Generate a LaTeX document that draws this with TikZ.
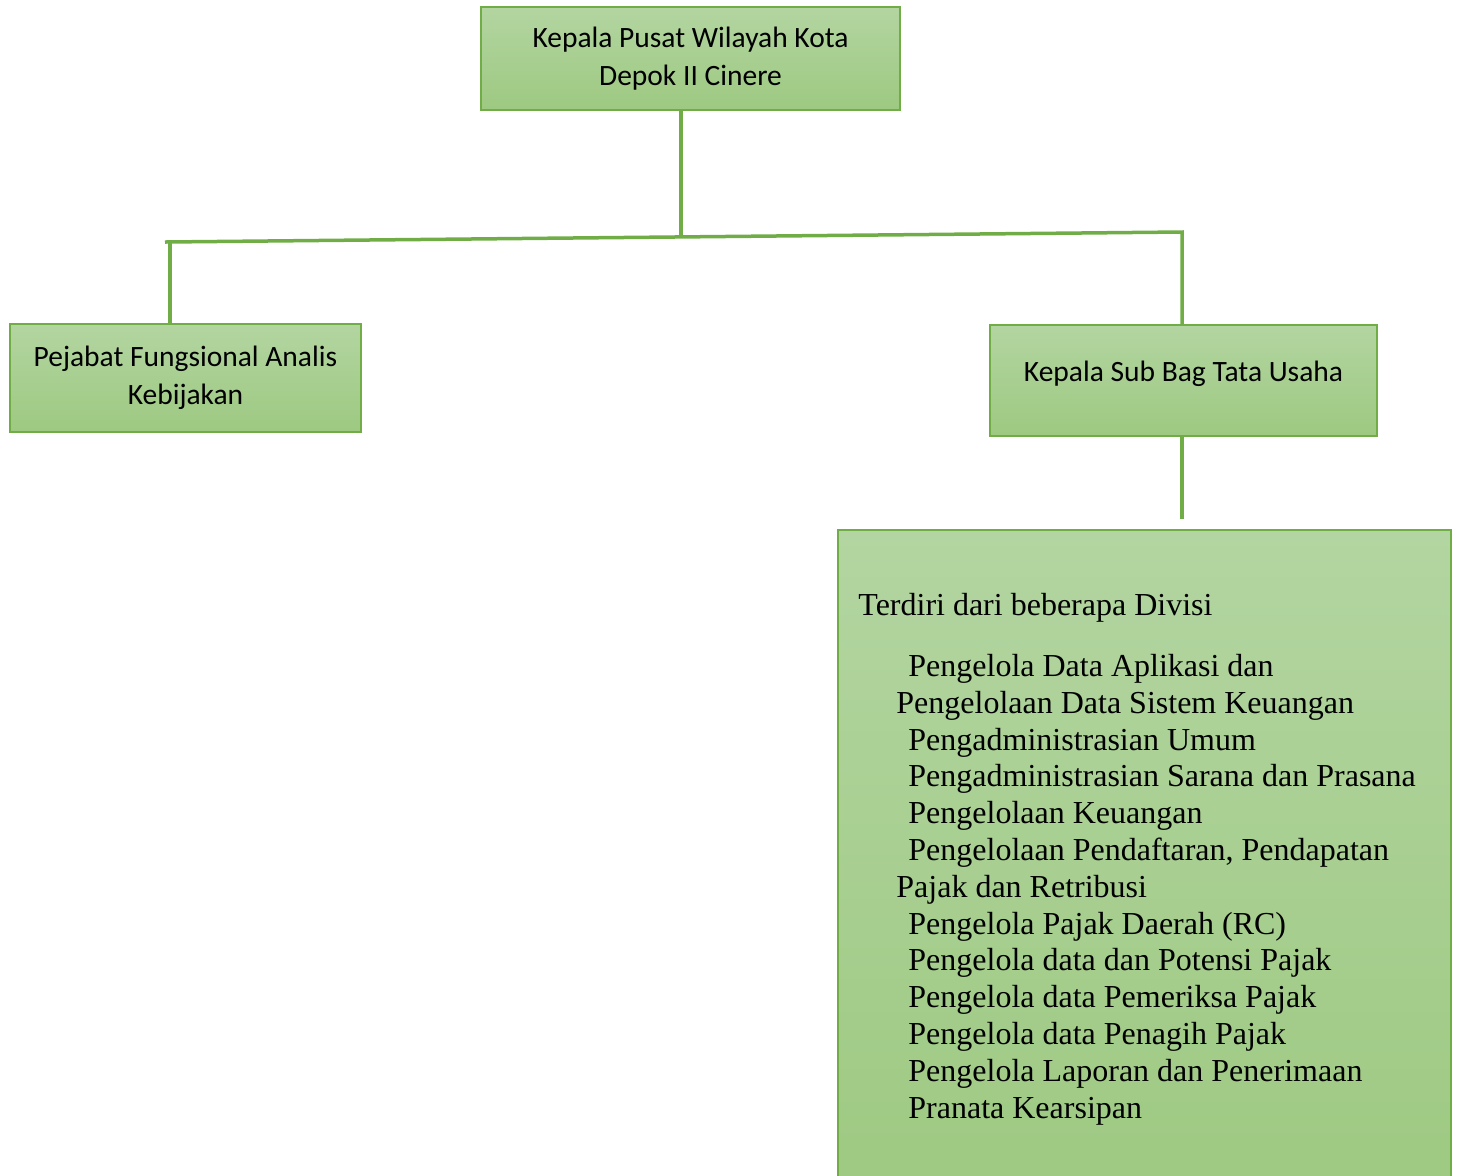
\documentclass[tikz,border=0pt]{standalone}
\usepackage{fontspec}
\setmainfont{Liberation Serif}
\newfontfamily\boxfont{Carlito}

\definecolor{orgline}{HTML}{70AD47}
\definecolor{orgtop}{HTML}{B3D5A1}
\definecolor{orgbot}{HTML}{9DC981}

\tikzset{
  unit/.style={draw=orgline, line width=1pt, top color=orgtop, bottom color=orgbot,
    align=center, inner sep=0pt, font=\boxfont\fontsize{14.75}{19}\selectfont},
  link/.style={orgline, line width=1.75pt},
  item/.style={anchor=base west, inner sep=0pt, font=\fontsize{16}{18.5}\selectfont}
}

\begin{document}
\begin{tikzpicture}[x=0.5pt,y=-0.5pt]
  \useasboundingbox (0,0) rectangle (1457,1175);

  % boxes
  \node[unit, minimum width=209.5pt, minimum height=51.5pt] (kepala) at (690.5,58.5)
    {Kepala Pusat Wilayah Kota\\Depok II Cinere};
  \node[unit, minimum width=175.5pt, minimum height=54pt] (pejabat) at (185.5,378)
    {\raisebox{2.5pt}{\begin{tabular}{@{}c@{}}Pejabat Fungsional Analis\\[-0.3pt]Kebijakan\end{tabular}}};
  \node[unit, minimum width=193.5pt, minimum height=55.5pt] (kasubag) at (1183.5,380.5)
    {\raisebox{9pt}{Kepala Sub Bag Tata Usaha}};
  \node[unit, minimum width=306.5pt, minimum height=340pt] (divisi) at (1144.5,870) {};

  % list of divisions
  \foreach \x/\y/\t [count=\i] in {
      858/615/{Terdiri dari beberapa Divisi},
      908/676/{Pengelola Data Aplikasi dan},
      896/713/{Pengelolaan Data Sistem Keuangan},
      908/750/{Pengadministrasian Umum},
      908/786/{Pengadministrasian Sarana dan Prasana},
      908/823/{Pengelolaan Keuangan},
      908/860/{Pengelolaan Pendaftaran, Pendapatan},
      896/897/{Pajak dan Retribusi},
      908/934/{Pengelola Pajak Daerah (RC)},
      908/970/{Pengelola data dan Potensi Pajak},
      908/1007/{Pengelola data Pemeriksa Pajak},
      908/1044/{Pengelola data Penagih Pajak},
      908/1081/{Pengelola Laporan dan Penerimaan},
      908/1118/{Pranata Kearsipan}}
    \node[item] (div\i) at (\x,\y) {\t};

  % connectors
  \coordinate (bus) at (681,237);
  \coordinate (busL) at (165,242);
  \coordinate (busR) at (1182,232);
  \coordinate (dropL) at (170,242);
  \coordinate (tail) at (1182,519);

  \draw[link] (bus |- kepala.south) -- (bus);
  \draw[link] (busL) -- (busR) -- (busR |- kasubag.north);
  \draw[link] (dropL) -- (dropL |- pejabat.north);
  \draw[link] (tail |- kasubag.south) -- (tail);

\end{tikzpicture}
\end{document}
